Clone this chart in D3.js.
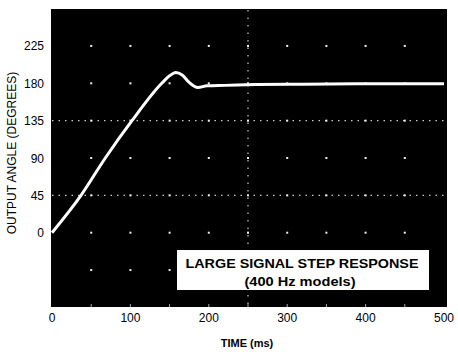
<!DOCTYPE html>
<html>
<head>
<meta charset="utf-8">
<script src="https://cdn.jsdelivr.net/npm/d3@7"></script>
<style>
  body { margin: 0; background: #fff; }
  svg { display: block; font-family: "Liberation Sans", Arial, sans-serif; }
</style>
</head>
<body>
<svg id="chart" width="458" height="352"></svg>
<script>
// step response trace
let timeMs = [0, 37, 68, 102, 140, 150, 158, 166, 175, 186, 198, 220, 260, 320, 400, 500];
let angleDeg = [0, 45, 90, 135, 180, 189, 193, 190, 181, 175, 177, 177.5, 178.5, 179, 179.5, 179.5];

let xTicks = [0, 100, 200, 300, 400, 500];
let yTicks = [0, 45, 90, 135, 180, 225];
let gridTimes = [50, 100, 150, 200, 250, 300, 350, 400, 450];
let gridAngles = [-45, 0, 45, 90, 135, 180, 225];
let dottedAngles = [45, 135];
let dottedTimes = [250];

let titleLines = ['LARGE SIGNAL STEP RESPONSE', '(400 Hz models)'];

let svg = d3.select('#chart');

let x = d3.scaleLinear().domain([0, 500]).range([52, 444]);
let y = d3.scaleLinear().domain([-90, 270]).range([307.4, 8.6]);

// black scope screen
svg.append('rect')
    .attr('x', 51).attr('y', 9)
    .attr('width', 396).attr('height', 298)
    .attr('fill', '#000');

// dotted graticule lines
svg.selectAll('line.hdot')
    .data(dottedAngles).enter().append('line')
    .attr('class', 'hdot')
    .attr('x1', 52).attr('x2', 446)
    .attr('y1', d => y(d)).attr('y2', d => y(d))
    .attr('stroke', '#ccc').attr('stroke-width', 1.2)
    .attr('stroke-dasharray', '1.5,5');

svg.selectAll('line.vdot')
    .data(dottedTimes).enter().append('line')
    .attr('class', 'vdot')
    .attr('x1', d => x(d)).attr('x2', d => x(d))
    .attr('y1', 10).attr('y2', 306)
    .attr('stroke', '#ccc').attr('stroke-width', 1.2)
    .attr('stroke-dasharray', '1.5,6');

// graticule dots
let pts = [];
gridTimes.forEach(t => gridAngles.forEach(a => pts.push([t, a])));
svg.selectAll('rect.dot')
    .data(pts).enter().append('rect')
    .attr('class', 'dot')
    .attr('x', d => x(d[0]) - 1).attr('y', d => y(d[1]) - 1)
    .attr('width', 2).attr('height', 2)
    .attr('fill', '#eee');

// edge ticks
svg.selectAll('line.btick')
    .data(gridTimes).enter().append('line')
    .attr('class', 'btick')
    .attr('x1', d => x(d)).attr('x2', d => x(d))
    .attr('y1', 304).attr('y2', 307)
    .attr('stroke', '#aaa');

// trace
let line = d3.line()
    .x((d, i) => x(timeMs[i]))
    .y(d => y(d))
    .curve(d3.curveMonotoneX);

svg.append('path')
    .datum(angleDeg)
    .attr('d', line)
    .attr('fill', 'none')
    .attr('stroke', '#fff')
    .attr('stroke-width', 3)
    .attr('stroke-linejoin', 'round');

// axes labels
svg.selectAll('text.xt')
    .data(xTicks).enter().append('text')
    .attr('class', 'xt')
    .attr('x', d => x(d)).attr('y', 322)
    .attr('text-anchor', 'middle')
    .attr('font-size', 12)
    .text(d => d);

svg.selectAll('text.yt')
    .data(yTicks).enter().append('text')
    .attr('class', 'yt')
    .attr('x', 44).attr('y', d => y(d) + 4.5)
    .attr('text-anchor', 'end')
    .attr('font-size', 12)
    .text(d => d);

svg.append('text')
    .attr('x', 247).attr('y', 347)
    .attr('text-anchor', 'middle')
    .attr('font-size', 11)
    .attr('font-weight', 'bold')
    .text('TIME (ms)');

svg.append('text')
    .attr('transform', 'translate(16,153) rotate(-90)')
    .attr('text-anchor', 'middle')
    .attr('font-size', 12)
    .text('OUTPUT ANGLE (DEGREES)');

// label box
svg.append('rect')
    .attr('x', 177).attr('y', 250)
    .attr('width', 252).attr('height', 40)
    .attr('fill', '#fff');

svg.append('text')
    .attr('x', 302).attr('y', 267.5)
    .attr('text-anchor', 'middle')
    .attr('font-size', 12.5).attr('font-weight', 'bold')
    .attr('textLength', 233).attr('lengthAdjust', 'spacingAndGlyphs')
    .text(titleLines[0]);

svg.append('text')
    .attr('x', 300).attr('y', 286)
    .attr('text-anchor', 'middle')
    .attr('font-size', 12).attr('font-weight', 'bold')
    .attr('textLength', 111).attr('lengthAdjust', 'spacingAndGlyphs')
    .text(titleLines[1]);
</script>
</body>
</html>
